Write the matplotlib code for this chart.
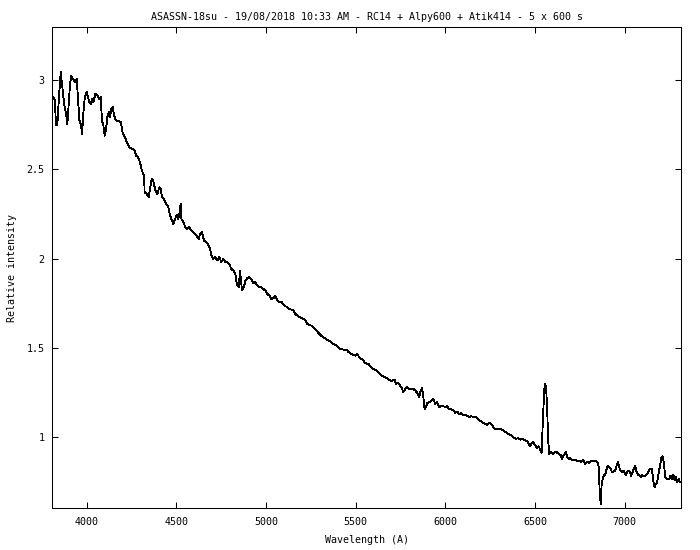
import matplotlib
matplotlib.use("Agg")
import matplotlib.pyplot as plt

title = "ASASSN-18su - 19/08/2018 10:33 AM - RC14 + Alpy600 + Atik414 - 5 x 600 s"
x_label = "Wavelength (A)"
y_label = "Relative intensity"

wavelength = [
    3808, 3814, 3822, 3829, 3836, 3844, 3855, 3862, 3870, 3877, 3885, 3892, 3897, 3907,
    3914, 3922, 3929, 3936, 3944, 3951, 3959, 3967, 3974, 3981, 3989, 4000, 4007, 4015,
    4022, 4030, 4037, 4048, 4059, 4070, 4078, 4085, 4093, 4100, 4108, 4115, 4123, 4130,
    4137, 4145, 4152, 4160, 4167, 4178, 4190, 4201, 4214, 4223, 4238, 4253, 4268, 4275,
    4286, 4297, 4308, 4320, 4323, 4335, 4346, 4353, 4363, 4371, 4383, 4394, 4405, 4413,
    4420, 4431, 4442, 4453, 4465, 4476, 4483, 4494, 4502, 4509, 4516, 4524, 4528, 4539,
    4550, 4561, 4572, 4583, 4595, 4606, 4617, 4625, 4632, 4643, 4654, 4665, 4676, 4688,
    4695, 4706, 4717, 4728, 4740, 4751, 4762, 4773, 4784, 4795, 4806, 4818, 4829, 4837,
    4848, 4855, 4866, 4877, 4885, 4896, 4907, 4918, 4929, 4940, 4951, 4963, 4974, 4985,
    4996, 5007, 5018, 5030, 5041, 5052, 5063, 5074, 5085, 5096, 5108, 5119, 5130, 5141,
    5152, 5163, 5175, 5186, 5197, 5208, 5219, 5230, 5241, 5253, 5264, 5275, 5286, 5297,
    5308, 5320, 5340, 5357, 5374, 5396, 5413, 5431, 5450, 5461, 5476, 5487, 5498, 5509,
    5520, 5528, 5539, 5550, 5562, 5573, 5584, 5595, 5606, 5617, 5628, 5640, 5651, 5662,
    5673, 5684, 5695, 5707, 5718, 5725, 5736, 5747, 5758, 5766, 5777, 5788, 5799, 5810,
    5821, 5833, 5844, 5855, 5863, 5870, 5877, 5885, 5892, 5900, 5911, 5922, 5933, 5944,
    5955, 5966, 5978, 5989, 6000, 6011, 6022, 6033, 6045, 6056, 6067, 6078, 6089, 6100,
    6111, 6123, 6134, 6145, 6156, 6167, 6178, 6190, 6201, 6212, 6223, 6234, 6245, 6256,
    6268, 6279, 6305, 6323, 6338, 6353, 6368, 6379, 6394, 6405, 6417, 6428, 6439, 6450,
    6461, 6472, 6480, 6491, 6502, 6513, 6521, 6528, 6538, 6543, 6549, 6554, 6558, 6563,
    6569, 6574, 6580, 6588, 6599, 6610, 6621, 6632, 6643, 6651, 6658, 6666, 6673, 6680,
    6688, 6695, 6703, 6714, 6725, 6736, 6747, 6758, 6770, 6781, 6792, 6803, 6814, 6825,
    6836, 6847, 6855, 6861, 6867, 6872, 6878, 6885, 6892, 6900, 6907, 6915, 6922, 6930,
    6937, 6948, 6956, 6963, 6970, 6978, 6985, 6993, 7000, 7007, 7015, 7023, 7030, 7037,
    7045, 7052, 7060, 7067, 7075, 7082, 7090, 7097, 7108, 7119, 7130, 7138, 7145, 7153,
    7160, 7168, 7175, 7182, 7190, 7198, 7205, 7212, 7220, 7227, 7238, 7249, 7257, 7264,
    7272, 7280, 7287, 7294, 7302, 7309,
]

intensity = [
    2.910, 2.905, 2.886, 2.746, 2.746, 2.886, 3.045, 2.979, 2.905, 2.849, 2.811, 2.755, 2.830, 2.979,
    3.026, 3.007, 2.998, 2.989, 3.007, 2.905, 2.774, 2.755, 2.699, 2.811, 2.905, 2.933, 2.905, 2.877,
    2.867, 2.895, 2.877, 2.923, 2.914, 2.895, 2.905, 2.774, 2.746, 2.689, 2.727, 2.793, 2.821, 2.793,
    2.839, 2.849, 2.802, 2.783, 2.774, 2.770, 2.765, 2.699, 2.680, 2.652, 2.624, 2.615, 2.605, 2.577,
    2.568, 2.540, 2.493, 2.465, 2.372, 2.363, 2.344, 2.391, 2.447, 2.437, 2.381, 2.363, 2.400, 2.391,
    2.344, 2.335, 2.307, 2.297, 2.241, 2.213, 2.194, 2.223, 2.245, 2.223, 2.241, 2.307, 2.223, 2.204,
    2.176, 2.166, 2.176, 2.157, 2.148, 2.138, 2.120, 2.110, 2.138, 2.148, 2.101, 2.092, 2.082, 2.054,
    2.017, 1.998, 2.008, 1.989, 2.008, 1.980, 1.998, 1.980, 1.980, 1.970, 1.942, 1.933, 1.914, 1.858,
    1.840, 1.933, 1.821, 1.840, 1.877, 1.890, 1.896, 1.886, 1.864, 1.868, 1.849, 1.840, 1.840, 1.830,
    1.821, 1.802, 1.793, 1.774, 1.778, 1.789, 1.765, 1.756, 1.759, 1.746, 1.733, 1.728, 1.718, 1.714,
    1.709, 1.690, 1.681, 1.672, 1.666, 1.662, 1.653, 1.634, 1.628, 1.624, 1.615, 1.606, 1.591, 1.578,
    1.568, 1.559, 1.545, 1.538, 1.522, 1.510, 1.494, 1.490, 1.488, 1.475, 1.466, 1.460, 1.456, 1.466,
    1.447, 1.438, 1.434, 1.419, 1.410, 1.410, 1.391, 1.382, 1.378, 1.372, 1.359, 1.348, 1.341, 1.335,
    1.330, 1.322, 1.316, 1.316, 1.322, 1.298, 1.303, 1.288, 1.274, 1.251, 1.270, 1.279, 1.270, 1.266,
    1.270, 1.260, 1.247, 1.223, 1.260, 1.274, 1.232, 1.154, 1.167, 1.191, 1.195, 1.204, 1.214, 1.186,
    1.195, 1.167, 1.176, 1.173, 1.167, 1.176, 1.154, 1.157, 1.148, 1.135, 1.142, 1.129, 1.135, 1.124,
    1.124, 1.117, 1.111, 1.117, 1.111, 1.114, 1.105, 1.092, 1.086, 1.079, 1.073, 1.068, 1.079, 1.073,
    1.055, 1.045, 1.045, 1.036, 1.027, 1.017, 1.008, 0.999, 0.989, 0.993, 0.985, 0.989, 0.985, 0.980,
    0.971, 0.948, 0.961, 0.971, 0.952, 0.937, 0.948, 0.933, 0.911, 1.055, 1.195, 1.288, 1.298, 1.270,
    1.139, 0.980, 0.905, 0.915, 0.905, 0.915, 0.915, 0.905, 0.900, 0.877, 0.892, 0.905, 0.915, 0.887,
    0.877, 0.881, 0.873, 0.868, 0.873, 0.862, 0.868, 0.859, 0.873, 0.849, 0.862, 0.855, 0.866, 0.862,
    0.868, 0.862, 0.840, 0.709, 0.625, 0.728, 0.765, 0.784, 0.788, 0.821, 0.840, 0.831, 0.821, 0.803,
    0.806, 0.812, 0.840, 0.859, 0.831, 0.812, 0.803, 0.812, 0.803, 0.788, 0.803, 0.812, 0.803, 0.780,
    0.803, 0.825, 0.836, 0.806, 0.788, 0.784, 0.775, 0.788, 0.780, 0.784, 0.799, 0.817, 0.821, 0.821,
    0.756, 0.719, 0.737, 0.747, 0.793, 0.840, 0.881, 0.892, 0.849, 0.775, 0.765, 0.761, 0.784, 0.765,
    0.788, 0.756, 0.775, 0.747, 0.765, 0.747,
]

x_ticks = [4000, 4500, 5000, 5500, 6000, 6500, 7000]
y_ticks = [1, 1.5, 2, 2.5, 3]
y_tick_labels = ["1", "1.5", "2", "2.5", "3"]

plt.rcParams["font.family"] = ["DejaVu Sans Mono"]
plt.rcParams["font.size"] = 7.2

fig = plt.figure(figsize=(7, 5.5), dpi=100)
ax = fig.add_axes([52.3 / 700, 1 - 508.3 / 550, (681 - 52.3) / 700, (508.3 - 26.7) / 550])

ax.plot(wavelength, intensity, color="black", linewidth=0.6, antialiased=False)

ax.set_xlim(3808, 7315)
ax.set_ylim(0.6, 3.3)
ax.set_xticks(x_ticks)
ax.set_xticklabels([str(t) for t in x_ticks])
ax.set_yticks(y_ticks)
ax.set_yticklabels(y_tick_labels)
ax.tick_params(direction="in", length=4.3, width=0.75, top=True, right=True,
               labelsize=7.2, colors="black")
ax.tick_params(axis="x", pad=6)
ax.tick_params(axis="y", pad=5.5)
for s in ax.spines.values():
    s.set_linewidth(0.75)
    s.set_color("black")

ax.set_title(title, fontsize=7.2, pad=4.5)
ax.set_xlabel(x_label, fontsize=7.2, labelpad=6)
ax.set_ylabel(y_label, fontsize=7.2, labelpad=7)

fig.savefig("out.png", dpi=100)
